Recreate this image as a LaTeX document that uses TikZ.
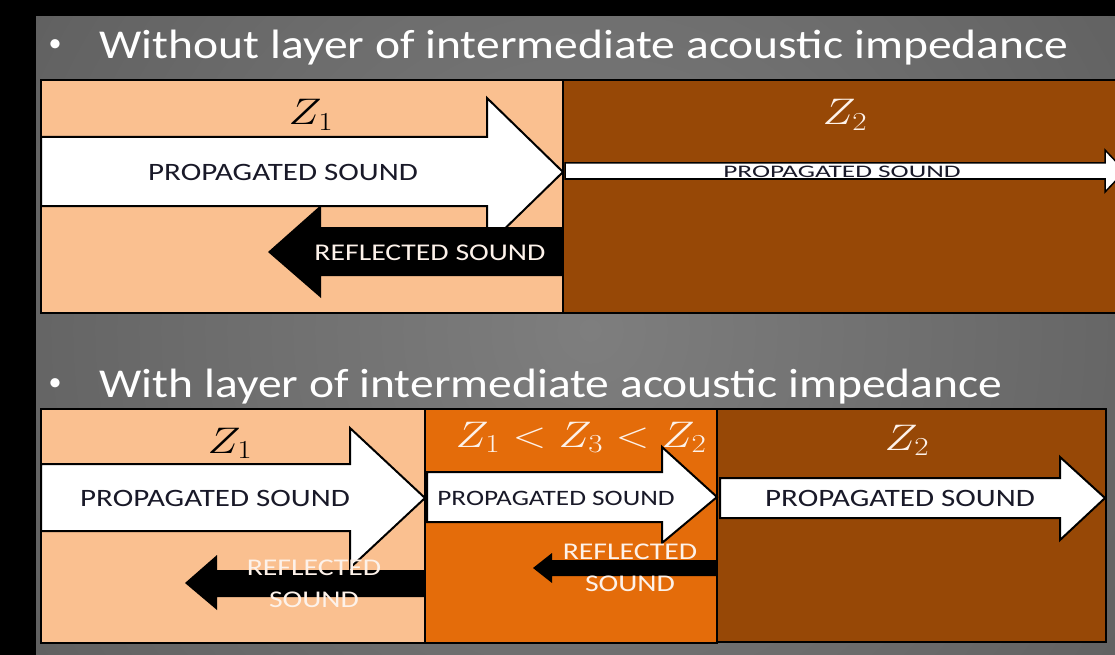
\documentclass[tikz,border=0pt]{standalone}
\usepackage{fix-cm}
\usepackage{fontspec}
\setmainfont{Carlito}
\newfontfamily\headfont[FakeStretch=1.16]{Carlito}
\newfontfamily\tagfont[FakeStretch=1.24]{Carlito}
\newcommand\zwide[1]{\scalebox{1.2}[1]{#1}}
\definecolor{peach}{RGB}{250,192,144}
\definecolor{rust}{RGB}{228,108,10}
\definecolor{bark}{RGB}{151,72,6}
\definecolor{ink}{RGB}{25,25,40}
\definecolor{cream}{RGB}{253,242,234}
\definecolor{bgA}{RGB}{126,126,126}
\definecolor{bgB}{RGB}{98,98,98}
\definecolor{bgC}{RGB}{50,50,50}
\definecolor{bgD}{RGB}{20,20,20}
\pgfdeclareradialshading{slidebg}{\pgfpoint{0bp}{0bp}}{color(0bp)=(bgA); color(22bp)=(bgB); color(40bp)=(bgC); color(50bp)=(bgD)}
\begin{document}
\begin{tikzpicture}[x=1pt,y=-1pt,
	layer/.style={draw=black,line width=2.5pt},
	fwd/.style={fill=white,draw=black,line width=2pt,line join=miter},
	back/.style={fill=black},
	lbl/.style={font=\tagfont\fontsize{25}{25}\selectfont,text=ink},
	rlbl/.style={font=\tagfont\fontsize{24}{32}\selectfont,text=cream,align=center},
	imp/.style={font=\fontsize{37}{37}\selectfont,anchor=base},
	head/.style={font=\headfont\fontsize{41}{41}\selectfont,text=white,anchor=base west},
	dot/.style={font=\fontsize{26}{26}\selectfont,text=white,anchor=base}]
	\useasboundingbox (0,0) rectangle (1115,655);
	\fill[black] (0,0) rectangle (1115,655);
	\begin{scope}
		\clip (36,17) rectangle (1115,655);
		\shade[shading=slidebg] (590,330) circle[radius=700pt];
	\end{scope}
	% without matching layer
	\node[head] (t1) at (96,59) {Without layer of intermediate acoustic impedance};
	\node[dot] (d1) at (55,52) {•};
	\draw[layer,fill=peach] (41,80) rectangle (563,313);
	\draw[layer,fill=bark] (563,80) rectangle (1125,313);
	\node[imp] (za) at (311,125) {\zwide{$Z_1$}};
	\node[imp,text=cream] (zb) at (845,125) {\zwide{$Z_2$}};
	\draw[fwd] (41,137) -- (487,137) -- (487,98) -- (563,172) -- (487,246) -- (487,206) -- (41,206) -- cycle;
	\node[lbl] (pa) at (283,172) {PROPAGATED SOUND};
	\fill[back] (563,227) -- (321,227) -- (321,205) -- (268,252) -- (321,298) -- (321,276) -- (563,276) -- cycle;
	\node[rlbl] (ra) at (430,253) {REFLECTED SOUND};
	\draw[fwd,line width=1.5pt] (565,163) -- (1105,163) -- (1105,150) -- (1125,171) -- (1105,192) -- (1105,179) -- (565,179) -- cycle;
	\node[lbl,font=\tagfont\fontsize{22}{22}\selectfont] (pb) at (842,172) {\scalebox{1}[0.8]{PROPAGATED SOUND}};
	% with matching layer
	\node[head] (t2) at (96,397) {With layer of intermediate acoustic impedance};
	\node[dot] (d2) at (55,390) {•};
	\draw[layer,fill=peach] (41,409) rectangle (425,643);
	\draw[layer,fill=rust] (425,409) rectangle (717,643);
	\draw[layer,fill=bark] (717,409) rectangle (1106,642);
	\node[imp] (zc) at (230,453) {\zwide{$Z_1$}};
	\node[imp,text=cream] (zd) at (581,447) {\zwide{$Z_1<Z_3<Z_2$}};
	\node[imp,text=cream] (ze) at (907,450) {\zwide{$Z_2$}};
	\draw[fwd] (41,464) -- (350,464) -- (350,428) -- (425,498) -- (350,568) -- (350,531) -- (41,531) -- cycle;
	\node[lbl] (pc) at (215,498) {PROPAGATED SOUND};
	\fill[back] (425,570) -- (217,570) -- (217,555) -- (185,583) -- (217,610) -- (217,597) -- (425,597) -- cycle;
	\node[rlbl] (rc) at (314,584) {REFLECTED\\SOUND};
	\draw[fwd] (427,472) -- (662,472) -- (662,447) -- (717,497) -- (662,543) -- (662,522) -- (427,522) -- cycle;
	\node[lbl,font=\tagfont\fontsize{22}{22}\selectfont] (pd) at (556,498) {PROPAGATED SOUND};
	\fill[back] (717,560) -- (552,560) -- (552,553) -- (533,568) -- (552,583) -- (552,576) -- (717,576) -- cycle;
	\node[rlbl] (rd) at (630,568) {REFLECTED\\SOUND};
	\draw[fwd] (720,478) -- (1060,478) -- (1060,457) -- (1105,498) -- (1060,540) -- (1060,518) -- (720,518) -- cycle;
	\node[lbl] (pe) at (900,498) {PROPAGATED SOUND};
\end{tikzpicture}
\end{document}
